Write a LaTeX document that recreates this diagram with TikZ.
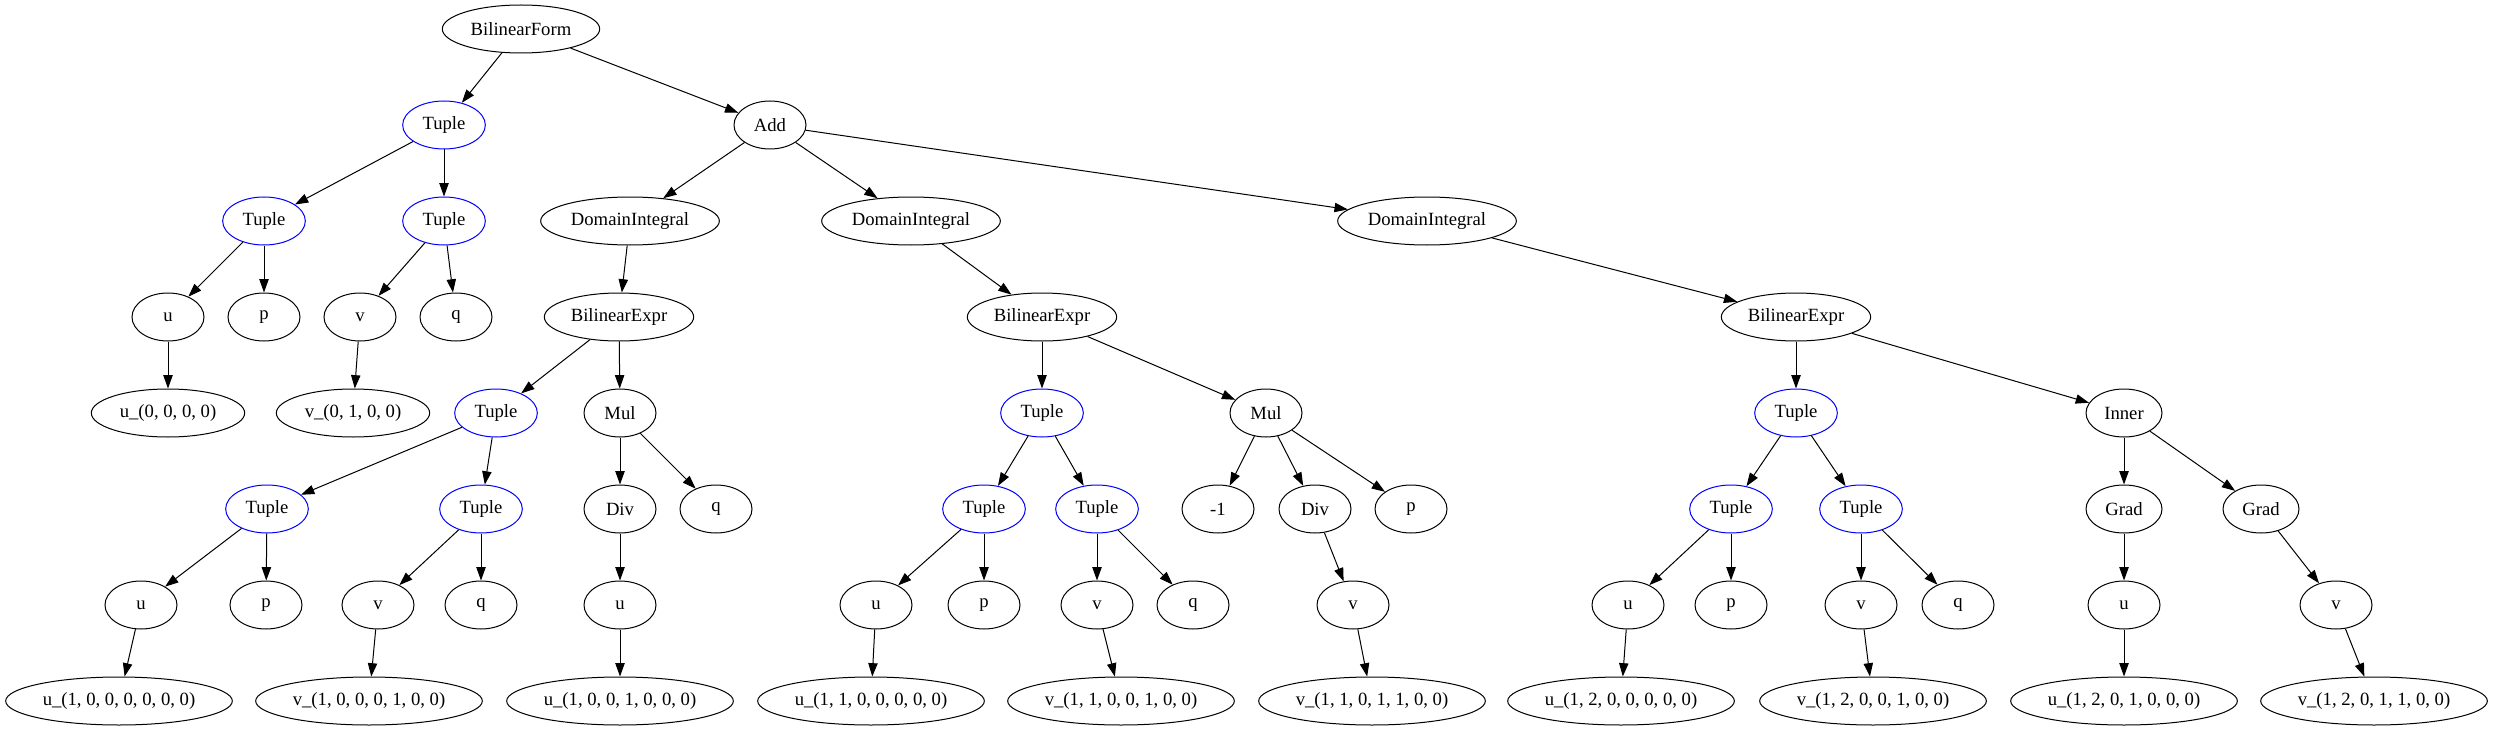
\documentclass[tikz,border=0pt]{standalone}
\usepackage{fontspec}
\setmainfont{Liberation Serif}
\usepackage{tikz}
\usetikzlibrary{arrows.meta,shapes.geometric}
\tikzset{>={Triangle[width=7pt,length=10pt]}}
\tikzset{
  op/.style={ellipse,draw,line width=0.75pt,inner sep=0pt,minimum width=54pt,minimum height=36pt,
    font=\fontsize{14}{16}\selectfont},
  tup/.style={op,draw=blue,minimum width=62pt},
  grd/.style={op,minimum width=57pt},
  named/.style={op,minimum width=#1},
  leafs/.style={op,minimum width=115pt},
  leafl/.style={op,minimum width=170pt},
  edge/.style={->,line width=0.75pt}
}

\begin{document}
\begin{tikzpicture}[x=0.75pt,y=-0.75pt]
		% border
		\useasboundingbox (0,0) rectangle (2494,731);
		% root and first split
		\node[named=118pt] (form) at (521,29) {BilinearForm};
		\node[tup] (tupA) at (444,125) {Tuple};
		\node[op]  (add)  at (770,125) {Add};
		\node[tup] (tupAu) at (264,221) {Tuple};
		\node[tup] (tupAv) at (444,221) {Tuple};
		\node[named=134pt] (intA) at (630,221) {DomainIntegral};
		\node[named=134pt] (intB) at (911,221) {DomainIntegral};
		\node[named=134pt] (intC) at (1427,221) {DomainIntegral};
		\node[op] (uA) at (168,317) {u};
		\node[op] (pA) at (264,317) {p};
		\node[op] (vA) at (360,317) {v};
		\node[op] (qA) at (456,317) {q};
		\node[named=112pt] (exA) at (619,317) {BilinearExpr};
		\node[named=112pt] (exB) at (1042,317) {BilinearExpr};
		\node[named=112pt] (exC) at (1796,317) {BilinearExpr};
		\node[leafs] (luA) at (168,413) {u\_(0, 0, 0, 0)};
		\node[leafs] (lvA) at (353,413) {v\_(0, 1, 0, 0)};
		% first integral
		\node[tup] (tupB)  at (496,413) {Tuple};
		\node[op]  (mulB)  at (620,413) {Mul};
		\node[tup] (tupBu) at (267,509) {Tuple};
		\node[tup] (tupBv) at (481,509) {Tuple};
		\node[op]  (divB)  at (620,509) {Div};
		\node[op]  (qB2)   at (716,509) {q};
		\node[op] (uB) at (141,605) {u};
		\node[op] (pB) at (266,605) {p};
		\node[op] (vB) at (378,605) {v};
		\node[op] (qB) at (481,605) {q};
		\node[op] (uB2) at (620,605) {u};
		\node[leafl] (luB)  at (119,701) {u\_(1, 0, 0, 0, 0, 0, 0)};
		\node[leafl] (lvB)  at (369,701) {v\_(1, 0, 0, 0, 1, 0, 0)};
		\node[leafl] (luB2) at (620,701) {u\_(1, 0, 0, 1, 0, 0, 0)};
		% second integral
		\node[tup] (tupC)  at (1042,413) {Tuple};
		\node[op]  (mulC)  at (1266,413) {Mul};
		\node[tup] (tupCu) at (984,509) {Tuple};
		\node[tup] (tupCv) at (1097,509) {Tuple};
		\node[op]  (negC)  at (1218,509) {-1};
		\node[op]  (divC)  at (1315,509) {Div};
		\node[op]  (pC2)   at (1411,509) {p};
		\node[op] (uC) at (876,605) {u};
		\node[op] (pC) at (984,605) {p};
		\node[op] (vC) at (1097,605) {v};
		\node[op] (qC) at (1193,605) {q};
		\node[op] (vC2) at (1353,605) {v};
		\node[leafl] (luC)  at (871,701) {u\_(1, 1, 0, 0, 0, 0, 0)};
		\node[leafl] (lvC)  at (1121,701) {v\_(1, 1, 0, 0, 1, 0, 0)};
		\node[leafl] (lvC2) at (1372,701) {v\_(1, 1, 0, 1, 1, 0, 0)};
		% third integral
		\node[tup] (tupD)  at (1796,413) {Tuple};
		\node[grd] (innD)  at (2124,413) {Inner};
		\node[tup] (tupDu) at (1731,509) {Tuple};
		\node[tup] (tupDv) at (1861,509) {Tuple};
		\node[grd] (grdDu) at (2124,509) {Grad};
		\node[grd] (grdDv) at (2261,509) {Grad};
		\node[op] (uD) at (1628,605) {u};
		\node[op] (pD) at (1731,605) {p};
		\node[op] (vD) at (1861,605) {v};
		\node[op] (qD) at (1958,605) {q};
		\node[op] (uD2) at (2124,605) {u};
		\node[op] (vD2) at (2336,605) {v};
		\node[leafl] (luD)  at (1621,701) {u\_(1, 2, 0, 0, 0, 0, 0)};
		\node[leafl] (lvD)  at (1873,701) {v\_(1, 2, 0, 0, 1, 0, 0)};
		\node[leafl] (luD2) at (2124,701) {u\_(1, 2, 0, 1, 0, 0, 0)};
		\node[leafl] (lvD2) at (2374,701) {v\_(1, 2, 0, 1, 1, 0, 0)};
		% edges
		\draw[edge] (form) -- (tupA);
		\draw[edge] (form) -- (add);
		\draw[edge] (tupA) -- (tupAu);
		\draw[edge] (tupA) -- (tupAv);
		\draw[edge] (tupAu) -- (uA);
		\draw[edge] (tupAu) -- (pA);
		\draw[edge] (tupAv) -- (vA);
		\draw[edge] (tupAv) -- (qA);
		\draw[edge] (uA) -- (luA);
		\draw[edge] (vA) -- (lvA);
		\draw[edge] (add) -- (intA);
		\draw[edge] (add) -- (intB);
		\draw[edge] (add) -- (intC);
		\draw[edge] (intA) -- (exA);
		\draw[edge] (intB) -- (exB);
		\draw[edge] (intC) -- (exC);
		% edges, first integral
		\draw[edge] (exA) -- (tupB);
		\draw[edge] (exA) -- (mulB);
		\draw[edge] (tupB) -- (tupBu);
		\draw[edge] (tupB) -- (tupBv);
		\draw[edge] (tupBu) -- (uB);
		\draw[edge] (tupBu) -- (pB);
		\draw[edge] (tupBv) -- (vB);
		\draw[edge] (tupBv) -- (qB);
		\draw[edge] (uB) -- (luB);
		\draw[edge] (vB) -- (lvB);
		\draw[edge] (mulB) -- (divB);
		\draw[edge] (mulB) -- (qB2);
		\draw[edge] (divB) -- (uB2);
		\draw[edge] (uB2) -- (luB2);
		% edges, second integral
		\draw[edge] (exB) -- (tupC);
		\draw[edge] (exB) -- (mulC);
		\draw[edge] (tupC) -- (tupCu);
		\draw[edge] (tupC) -- (tupCv);
		\draw[edge] (tupCu) -- (uC);
		\draw[edge] (tupCu) -- (pC);
		\draw[edge] (tupCv) -- (vC);
		\draw[edge] (tupCv) -- (qC);
		\draw[edge] (uC) -- (luC);
		\draw[edge] (vC) -- (lvC);
		\draw[edge] (mulC) -- (negC);
		\draw[edge] (mulC) -- (divC);
		\draw[edge] (mulC) -- (pC2);
		\draw[edge] (divC) -- (vC2);
		\draw[edge] (vC2) -- (lvC2);
		% edges, third integral
		\draw[edge] (exC) -- (tupD);
		\draw[edge] (exC) -- (innD);
		\draw[edge] (tupD) -- (tupDu);
		\draw[edge] (tupD) -- (tupDv);
		\draw[edge] (tupDu) -- (uD);
		\draw[edge] (tupDu) -- (pD);
		\draw[edge] (tupDv) -- (vD);
		\draw[edge] (tupDv) -- (qD);
		\draw[edge] (uD) -- (luD);
		\draw[edge] (vD) -- (lvD);
		\draw[edge] (innD) -- (grdDu);
		\draw[edge] (innD) -- (grdDv);
		\draw[edge] (grdDu) -- (uD2);
		\draw[edge] (grdDv) -- (vD2);
		\draw[edge] (uD2) -- (luD2);
		\draw[edge] (vD2) -- (lvD2);
	\end{tikzpicture}
\end{document}
